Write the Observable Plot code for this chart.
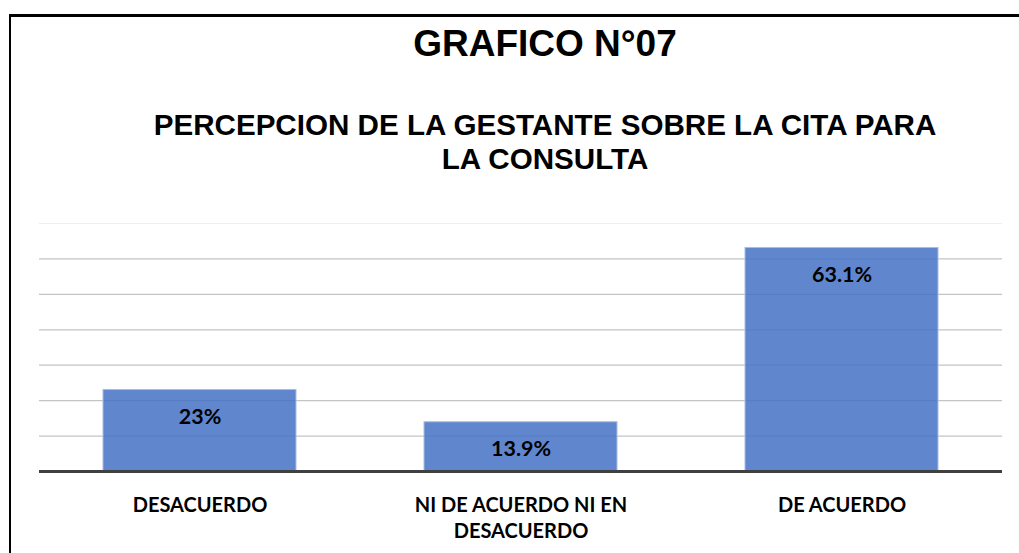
<!DOCTYPE html>
<html>
<head>
<meta charset="utf-8">
<script src="https://cdn.jsdelivr.net/npm/d3@7"></script>
<script src="https://cdn.jsdelivr.net/npm/@observablehq/plot@0.6"></script>
<style>
  html, body { margin: 0; padding: 0; background: #fff; }
  #page { position: relative; width: 1019px; height: 553px; overflow: hidden; background: #fff; }
  #frame { position: absolute; left: 9px; top: 14px; width: 1020px; height: 560px;
           border-left: 2px solid #000; border-top: 3px solid #000; box-sizing: border-box; }
  .t { position: absolute; left: 0; width: 1090px; text-align: center; color: #000;
       font-family: "Liberation Sans", Arial, sans-serif; font-weight: bold; white-space: nowrap; }
  #title { top: 24px; font-size: 37px; line-height: 40px; }
  #sub { top: 108px; font-size: 29.6px; line-height: 34px; }
  #chart { position: absolute; left: 0; top: 200px; }
</style>
</head>
<body>
<div id="page">
  <div id="frame"></div>
  <div class="t" id="title">GRAFICO N°07</div>
  <div class="t" id="sub">PERCEPCION DE LA GESTANTE SOBRE LA CITA PARA<br>LA CONSULTA</div>
  <div id="chart"></div>
</div>
<script>
const categories = ["DESACUERDO", "NI DE ACUERDO NI EN DESACUERDO", "DE ACUERDO"];
const tickLabels = ["DESACUERDO", "NI DE ACUERDO NI EN\nDESACUERDO", "DE ACUERDO"];
const values = [23, 13.9, 63.1];
const valueLabels = ["23%", "13.9%", "63.1%"];
const gridValues = [10, 20, 30, 40, 50, 60];
const topGrid = [70];

const data = categories.map((c, i) => ({cat: c, value: values[i], label: valueLabels[i], tick: tickLabels[i]}));

const chart = Plot.plot({
  width: 1019,
  height: 353,
  marginTop: 23,
  marginBottom: 82,
  marginLeft: 39,
  marginRight: 17,
  style: {fontFamily: "Lato, sans-serif", background: "transparent", overflow: "visible"},
  x: {domain: categories, paddingInner: 0.4, paddingOuter: 0.2, axis: null},
  y: {domain: [0, 70], axis: null},
  marks: [
    Plot.ruleY(topGrid, {stroke: "#eeeeee", strokeWidth: 1}),
    Plot.ruleY(gridValues, {stroke: "#c4c4c4", strokeWidth: 1.3}),
    Plot.barY(data, {x: "cat", y: "value", fill: "#4472c4", fillOpacity: 0.85, stroke: "#a8bde4", strokeWidth: 1}),
    Plot.ruleY([0], {stroke: "#404040", strokeWidth: 3}),
    Plot.text(data, {x: "cat", y: "value", text: "label", dy: 27, fontSize: 21.5, fontWeight: "bold", fill: "#000"}),
    Plot.text(data, {x: "cat", y: () => 0, text: "tick", lineAnchor: "top", dy: 22, lineHeight: 1.3, fontSize: 20, fontWeight: "bold", fill: "#000"})
  ]
});
document.getElementById("chart").appendChild(chart);
</script>
</body>
</html>
